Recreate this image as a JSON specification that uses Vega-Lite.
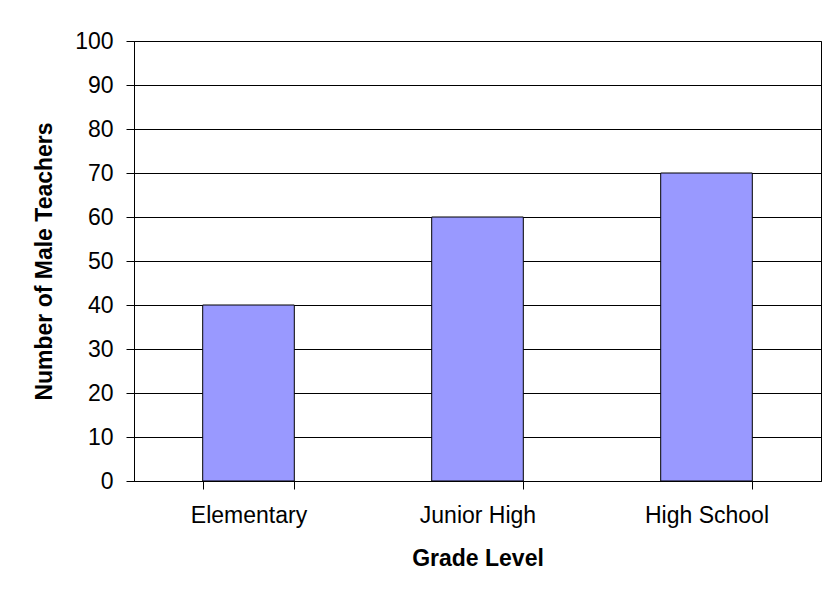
{
  "$schema": "https://vega.github.io/schema/vega-lite/v6.json",
  "width": 687,
  "height": 440,
  "autosize": {"type": "none"},
  "padding": {"left": 134, "top": 41, "right": 2, "bottom": 115},
  "background": "white",
  "config": {
    "font": "Liberation Sans",
    "view": {"stroke": "black", "strokeWidth": 1},
    "axis": {
      "labelFont": "Liberation Sans",
      "titleFont": "Liberation Sans",
      "labelColor": "black",
      "titleColor": "black",
      "domainColor": "black",
      "tickColor": "black",
      "gridColor": "black",
      "labelFontSize": 23,
      "titleFontSize": 23,
      "titleFontWeight": "bold",
      "tickSize": 8
    }
  },
  "data": {
    "values": [
      {"grade": "Elementary", "teachers": 40},
      {"grade": "Junior High", "teachers": 60},
      {"grade": "High School", "teachers": 70}
    ]
  },
  "mark": {"type": "bar", "fill": "#9999FF", "stroke": "black", "strokeWidth": 1},
  "encoding": {
    "x": {
      "field": "grade",
      "type": "nominal",
      "sort": ["Elementary", "Junior High", "High School"],
      "scale": {"paddingInner": 0.6, "paddingOuter": 0.3},
      "axis": {
        "title": "Grade Level",
        "labelAngle": 0,
        "tickBand": "extent",
        "labelPadding": 15,
        "titlePadding": 20,
        "grid": false
      }
    },
    "y": {
      "field": "teachers",
      "type": "quantitative",
      "scale": {"domain": [0, 100]},
      "axis": {
        "title": "Number of Male Teachers",
        "values": [0, 10, 20, 30, 40, 50, 60, 70, 80, 90, 100],
        "grid": true,
        "labelPadding": 13,
        "titlePadding": 18
      }
    }
  }
}
